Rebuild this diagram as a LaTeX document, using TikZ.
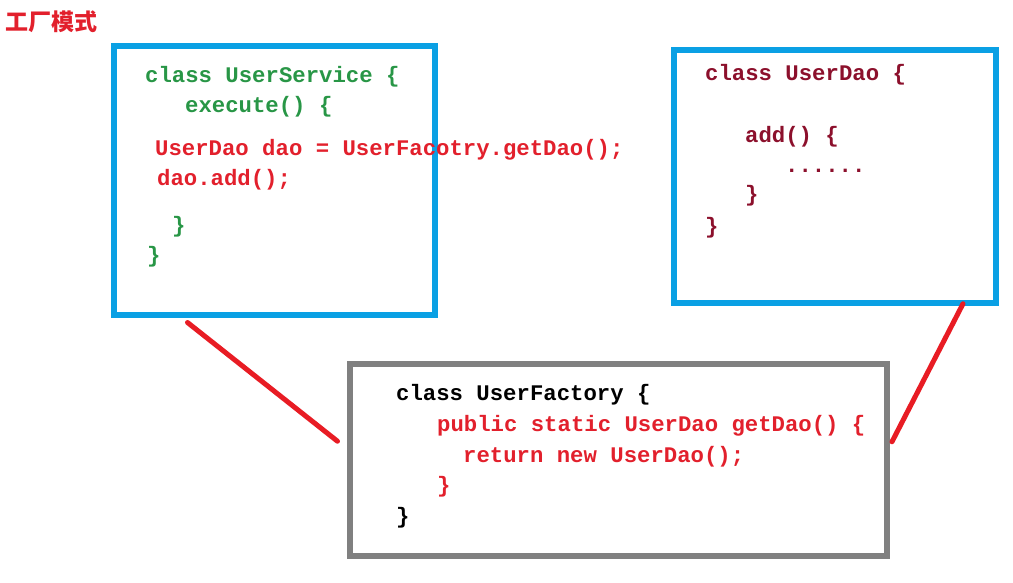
\documentclass[tikz,border=0pt]{standalone}
\usepackage{fontspec}
\setmonofont{Liberation Mono}
\newfontfamily\cjk{Noto Sans CJK SC}
\usetikzlibrary{calc,positioning}
\definecolor{boxblue}{RGB}{10,160,228}
\definecolor{boxgray}{RGB}{128,128,128}
\definecolor{codegreen}{RGB}{40,150,70}
\definecolor{codered}{RGB}{226,32,44}
\definecolor{codedark}{RGB}{140,16,44}
\definecolor{linkred}{RGB}{232,28,36}
\tikzset {
  classbox/.style={draw=boxblue,line width=6pt,minimum width=#1},
  code/.style={anchor=base west,inner sep=0pt,font=\ttfamily\bfseries\fontsize{22.3}{26}\selectfont},
  link/.style={draw=linkred,line width=5pt,line cap=round}
}

\begin{document}
\begin{tikzpicture}[x=1pt,y=-1pt]
\useasboundingbox (0,0) rectangle (1013,582);

\node[anchor=west,inner sep=0pt,text=codered,font=\cjk\bfseries\fontsize{23}{26}\selectfont] (title) at (5,22) {工厂模式};

% the three classes
\node[classbox=321pt,minimum height=269pt] (svc) at (274,180) {};
\node[classbox=322.5pt,minimum height=253.5pt] (dao) at (834.75,176.5) {};
\node[classbox=537.5pt,minimum height=192.5pt,draw=boxgray] (fac) at (618.25,459.75) {};

% UserService
\node[code,text=codegreen] (s1) at (145,82) {class UserService \{};
\node[code,text=codegreen] (s2) at (185,112) {execute() \{};
\node[code,text=codered] (s3) at (155,155) {UserDao dao = UserFacotry.getDao();};
\node[code,text=codered] (s4) at (157,185) {dao.add();};
\node[code,text=codegreen] (s5) at (172,232) {\}};
\node[code,text=codegreen] (s6) at (147,262) {\}};

% UserDao
\node[code,text=codedark] (d1) at (705,80) {class UserDao \{};
\node[code,text=codedark] (d2) at (745,142) {add() \{};
\node[code,text=codedark] (d3) at (785,172) {......};
\node[code,text=codedark] (d4) at (745,201) {\}};
\node[code,text=codedark] (d5) at (705,233) {\}};

% UserFactory
\node[code,text=black] (f1) at (396,400) {class UserFactory \{};
\node[code,text=codered] (f2) at (437,431) {public static UserDao getDao() \{};
\node[code,text=codered] (f3) at (463,462) {return new UserDao();};
\node[code,text=codered] (f4) at (437,492) {\}};
\node[code,text=black] (f5) at (396,523) {\}};

\draw[link] ($(svc.south west)+(77,5)$) -- ($(fac.west)+(-9,-18.5)$);
\draw[link] ($(dao.south east)+(-36,-2.5)$) -- ($(fac.east)+(2,-18)$);
\end{tikzpicture}
\end{document}
